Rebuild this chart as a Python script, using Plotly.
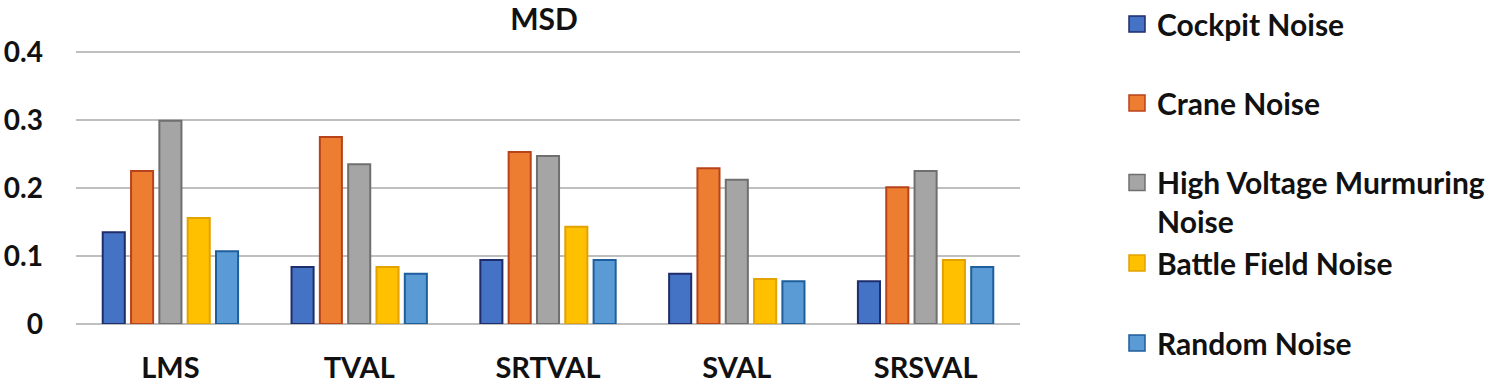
import plotly.graph_objects as go

categories = ["LMS", "TVAL", "SRTVAL", "SVAL", "SRSVAL"]
series_names = ["Cockpit Noise", "Crane Noise", "High Voltage Murmuring<br>Noise",
                "Battle Field Noise", "Random Noise"]
cockpit = [0.135, 0.084, 0.094, 0.074, 0.063]
crane = [0.225, 0.275, 0.253, 0.229, 0.201]
high_voltage = [0.299, 0.235, 0.247, 0.212, 0.225]
battle_field = [0.156, 0.084, 0.143, 0.066, 0.094]
random_noise = [0.107, 0.074, 0.094, 0.063, 0.084]
y_ticks = [0, 0.1, 0.2, 0.3, 0.4]
y_tick_labels = ["0", "0.1", "0.2", "0.3", "0.4"]

values = [cockpit, crane, high_voltage, battle_field, random_noise]
fills = ["#4472C4", "#ED7D31", "#A5A5A5", "#FFC000", "#5B9BD5"]
borders = ["#1F2D6B", "#B8431A", "#6F6F6F", "#E2A200", "#1F5E9C"]

FONT = "Lato"
W, H = 1505, 383
y_top = 0.4 + 3 / 680
ml, mr, mt, mb = 76, W - 1020, 49, H - 324
pw, ph = W - ml - mr, H - mt - mb

def px_to_paper_x(px):
    return (px - ml) / pw

def px_to_paper_y(py):
    return (H - mb - py) / ph

fig = go.Figure()
legend_ids = ["legend", "legend2", "legend3", "legend4", "legend5"]
for name, vals, fc, bc in zip(series_names, values, fills, borders):
    fig.add_trace(go.Bar(
        x=categories, y=vals, name=name, showlegend=False,
        marker=dict(color=fc, line=dict(color=bc, width=2)),
    ))
for name, fc, bc, lid in zip(series_names, fills, borders, legend_ids):
    fig.add_trace(go.Scatter(
        x=[None], y=[None], mode="markers", name=name, legend=lid,
        marker=dict(symbol="square", size=17, color=fc, line=dict(color=bc, width=1.5)),
        hoverinfo="skip",
    ))

legend_centers = [24, 103, 202, 263, 343]
lx = px_to_paper_x(1117)
legend_layout = {}
for lid, cy in zip(legend_ids, legend_centers):
    legend_layout[lid] = dict(
        x=lx, xanchor="left", y=px_to_paper_y(cy), yanchor="middle",
        font=dict(family=FONT, size=30, color="#111111", weight="bold"),
        bgcolor="rgba(0,0,0,0)", borderwidth=0, valign="top",
    )

fig.update_layout(
    width=W, height=H,
    margin=dict(l=ml, r=mr, t=mt, b=mb, pad=0, autoexpand=False),
    paper_bgcolor="white", plot_bgcolor="white",
    barmode="group", bargap=0.25, bargroupgap=0.22,
    title=dict(text="MSD", x=544 / W, xanchor="center",
               y=1 - 19 / H, yanchor="middle",
               font=dict(family=FONT, size=30, color="#111111", weight="bold")),
    font=dict(family=FONT, color="#111111"),
    xaxis=dict(showgrid=False, showline=False, zeroline=False, ticks="",
               tickfont=dict(family=FONT, size=29, color="#111111", weight="bold"),
               ticklabelstandoff=24),
    yaxis=dict(range=[0, y_top], tickvals=y_ticks, ticktext=y_tick_labels,
               showgrid=True, gridcolor="#BFBFBF", gridwidth=2,
               zeroline=True, zerolinecolor="#BFBFBF", zerolinewidth=2,
               showline=False, ticks="",
               tickfont=dict(family=FONT, size=28, color="#111111", weight="bold"),
               ticklabelstandoff=32),
    **legend_layout,
)

fig.write_html("out.html", config={"displayModeBar": False},
               post_script="document.body.style.margin='0';")
